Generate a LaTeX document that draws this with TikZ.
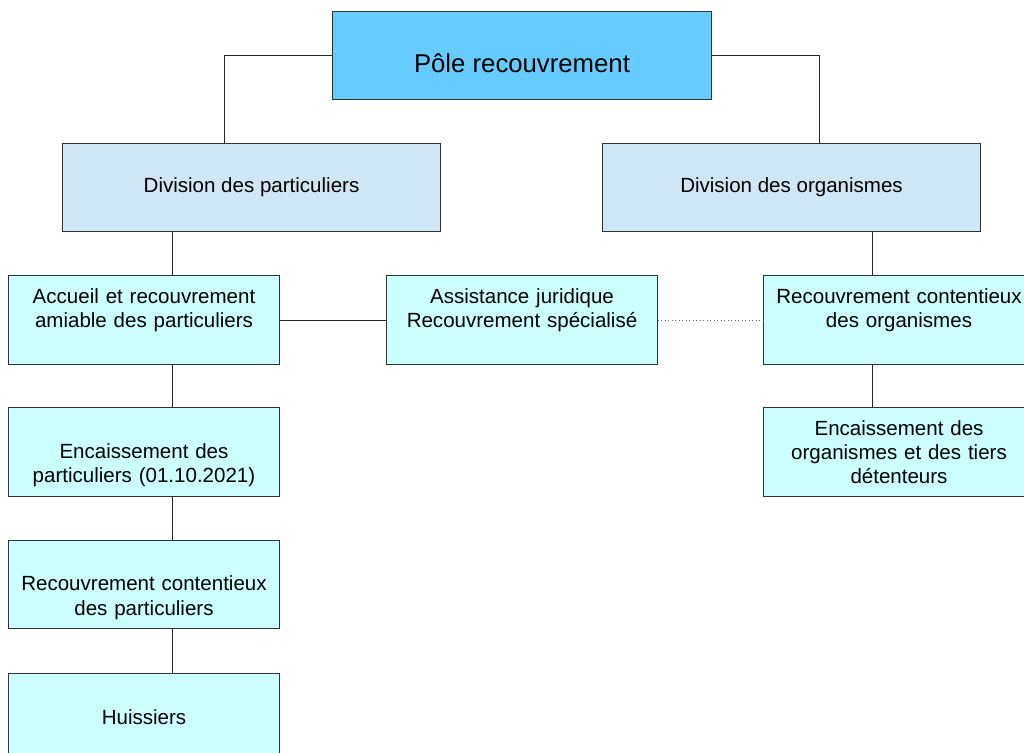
\documentclass[tikz,border=0pt]{standalone}
\usepackage{fontspec}
\setmainfont{Liberation Sans}
\definecolor{polefill}{HTML}{66CCFF}
\definecolor{divfill}{HTML}{CFE7F5}
\definecolor{unitfill}{HTML}{CCFFFF}

\begin{document}
\begin{tikzpicture}[x=0.025cm,y=-0.025cm,
  box/.style={draw=black!80,line width=0.7pt,align=center,inner sep=0pt,
    font=\fontsize{14.6}{17.2}\selectfont},
  unit/.style={box,fill=unitfill,text width=6.5cm,minimum width=6.75cm,minimum height=2.2cm},
  division/.style={box,fill=divfill,minimum width=9.425cm,minimum height=2.175cm},
  link/.style={draw=black!85,line width=0.7pt}]
\useasboundingbox (0,0) rectangle (1024,753);

% top
\node[box,fill=polefill,minimum width=9.45cm,minimum height=2.175cm,
  text height=24pt,text depth=0pt,
  font=\fontsize{18.3}{21}\selectfont] (pole) at (522,55.5) {Pôle recouvrement};

% divisions
\node[division] (divp) at (251.5,187.5) {Division des particuliers};
\node[division] (divo) at (791.5,187.5) {Division des organismes};

% particuliers
\node[unit] (acc) at (144,320) {Accueil et recouvrement\\amiable des particuliers\\ \mbox{}};
\node[unit] (enp) at (144,452) {\strut\\Encaissement des\\particuliers (01.10.2021)};
\node[unit,minimum height=2.175cm] (rcp) at (144,584.5) {\strut\\Recouvrement contentieux\\des particuliers};
\node[unit] (hui) at (144,717) {Huissiers};

% centre
\node[unit] (asst) at (522,320) {Assistance juridique\\Recouvrement spécialisé\\ \mbox{}};

% organismes
\node[unit] (rco) at (899,320) {Recouvrement contentieux\\des organismes\\ \mbox{}};
\node[unit] (eno) at (899,452) {Encaissement des\\organismes et des tiers\\détenteurs};

% links
\draw[link] (pole.west) -| ([xshift=-0.6875cm]divp.north);
\draw[link] (pole.east) -| ([xshift=0.6875cm]divo.north);
\draw[link] ([xshift=0.7cm]acc.north) -- ([xshift=0.7cm]acc.north |- divp.south);
\draw[link] ([xshift=0.7cm]acc.south) -- ([xshift=0.7cm]enp.north);
\draw[link] ([xshift=0.7cm]enp.south) -- ([xshift=0.7cm]rcp.north);
\draw[link] ([xshift=0.7cm]rcp.south) -- ([xshift=0.7cm]hui.north);
\draw[link] (acc.east) -- (asst.west);
\draw[link,draw=black!60,line width=0.5pt,dotted] (asst.east) -- (rco.west);
\draw[link] ([xshift=-0.675cm]rco.north) -- ([xshift=-0.675cm]rco.north |- divo.south);
\draw[link] ([xshift=-0.675cm]rco.south) -- ([xshift=-0.675cm]eno.north);
\end{tikzpicture}
\end{document}
